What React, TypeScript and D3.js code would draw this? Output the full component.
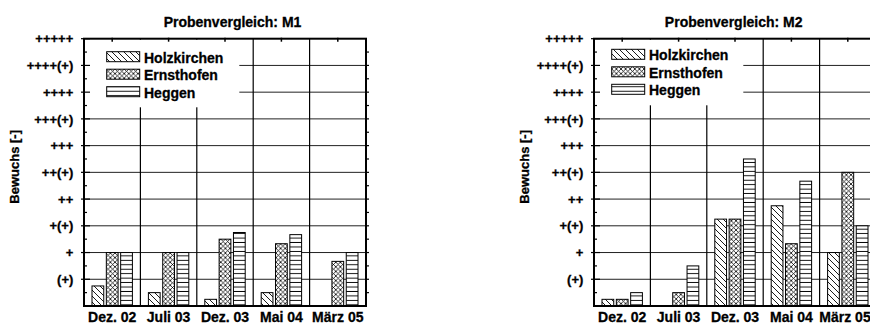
import React from 'react';
import * as d3 from 'd3';

const categories = ['Dez. 02', 'Juli 03', 'Dez. 03', 'Mai 04', 'März 05'];
const seriesNames = ['Holzkirchen', 'Ernsthofen', 'Heggen'];
const yTickValues = [1, 2, 3, 4, 5, 6, 7, 8, 9, 10];
const yTickLabels = ['(+)', '+', '+(+)', '++', '++(+)', '+++', '+++(+)', '++++', '++++(+)', '+++++'];

const m1Holzkirchen = [0.75, 0.5, 0.25, 0.5, 0];
const m1Ernsthofen = [2, 2, 2.5, 2.33, 1.67];
const m1Heggen = [2, 2, 2.75, 2.67, 2];

const m2Holzkirchen = [0.25, 0, 3.25, 3.75, 2];
const m2Ernsthofen = [0.25, 0.5, 3.25, 2.33, 5];
const m2Heggen = [0.5, 1.5, 5.5, 4.67, 3];

const FONT = '"Liberation Sans", Arial, Helvetica, sans-serif';
const patternIds = ['patDiag', 'patCross', 'patHoriz'];
const TXT = { fontFamily: FONT, fontWeight: 'bold' as const, stroke: '#000', strokeWidth: 0.3 };

type ChartProps = {
  x0: number;
  title: string;
  titleX: number;
  series: number[][];
  legendDx: number;
  legendDy: number;
  legendRight: number;
  legendBottom: number;
};

function Chart({ x0, title, titleX, series, legendDx, legendDy, legendRight, legendBottom }: ChartProps) {
  const left = x0;
  const right = x0 + 282;
  const top = 38.7;
  const bottom = 306;
  const x = d3.scaleBand<string>().domain(categories).range([left, right]).padding(0);
  const xs = d3.scaleBand<string>().domain(seriesNames).range([-20.2, 20.2]).paddingInner(0.18);
  const y = d3.scaleLinear().domain([0, 10]).range([bottom, top]);
  const halfTicks = d3.range(0.5, 10, 1);
  const allHalf = d3.range(0.5, 10, 0.5);
  const bw = x.bandwidth();

  const lx = left + 22.7 + legendDx;
  const ly = 51.7 + legendDy;

  return (
    <g>
      <text x={titleX} y={26.5} textAnchor="middle" fontSize={14} {...TXT}>{title}</text>
      {yTickValues.slice(0, 9).map((v) => (
        <line key={'h' + v} x1={left} x2={right} y1={y(v)} y2={y(v)} stroke="#222" strokeWidth={1} />
      ))}
      {categories.slice(1).map((c) => (
        <line key={'v' + c} x1={x(c)!} x2={x(c)!} y1={top} y2={bottom} stroke="#000" strokeWidth={1.2} />
      ))}
      <rect x={left + 1} y={top + 1} width={legendRight - left - 1} height={legendBottom - top - 1} fill="#fff" />
      {seriesNames.map((s, i) => (
        <g key={'lg' + s}>
          <rect x={lx} y={ly + i * 17.5} width={33} height={10} fill={`url(#${patternIds[i]})`} stroke="#000" strokeWidth={1} />
          <text x={lx + 37.3} y={ly + i * 17.5 + 10.8} fontSize={14} {...TXT}>{s}</text>
        </g>
      ))}
      {categories.map((c, ci) => (
        <g key={'b' + c}>
          {seriesNames.map((s, si) => {
            const v = series[si][ci];
            if (!v) return null;
            const bx = x(c)! + bw / 2 + xs(s)!;
            return (
              <rect key={s} x={bx} y={y(v)} width={xs.bandwidth()} height={y(0) - y(v)}
                fill={`url(#${patternIds[si]})`} stroke="#000" strokeWidth={1} />
            );
          })}
        </g>
      ))}
      <rect x={left} y={top} width={right - left} height={bottom - top} fill="none" stroke="#000" strokeWidth={2} />
      {yTickValues.map((v) => (
        <line key={'lt' + v} x1={left - 3} x2={left + 6} y1={y(v)} y2={y(v)} stroke="#000" strokeWidth={1.2} />
      ))}
      {halfTicks.map((v) => (
        <line key={'lm' + v} x1={left} x2={left + 3} y1={y(v)} y2={y(v)} stroke="#000" strokeWidth={1.2} />
      ))}
      {allHalf.map((v) => (
        <line key={'rt' + v} x1={right} x2={right + 3} y1={y(v)} y2={y(v)} stroke="#000" strokeWidth={1.2} />
      ))}
      {categories.map((c) => (
        <line key={'tt' + c} x1={x(c)! + bw / 2} x2={x(c)! + bw / 2} y1={top - 1} y2={top + 3} stroke="#000" strokeWidth={1.5} />
      ))}
      {yTickValues.map((v, i) => (
        <text key={'yl' + v} x={left - 10.7} y={y(v)} dy="0.36em" textAnchor="end" fontSize={13} {...TXT}>{yTickLabels[i]}</text>
      ))}
      {categories.map((c) => {
        const cx = Math.min(x(c)! + bw / 2, 845);
        return (
          <text key={'xl' + c} x={cx} y={322} textAnchor="middle" fontSize={14} {...TXT}>{c}</text>
        );
      })}
      <text transform={`translate(${left - 65.5},${(top + bottom) / 2 - 5.5}) rotate(-90)`} textAnchor="middle"
        fontSize={13} {...TXT}>Bewuchs [-]</text>
    </g>
  );
}

export default function App() {
  return (
    <svg width={870} height={327} viewBox="0 0 870 327"
      style={{ position: 'absolute', left: 0, top: 0, background: '#fff' }}>
      <defs>
        <pattern id="patDiag" patternUnits="userSpaceOnUse" width={6} height={6}>
          <rect width={6} height={6} fill="#fff" />
          <path d="M-1,-1 L7,7 M-1,5 L1,7 M5,-1 L7,1" stroke="#000" strokeWidth={0.9} />
        </pattern>
        <pattern id="patCross" patternUnits="userSpaceOnUse" width={4.6} height={4.6}>
          <rect width={4.6} height={4.6} fill="#fff" />
          <path d="M0,0 L4.6,4.6 M4.6,0 L0,4.6" stroke="#000" strokeWidth={0.8} />
        </pattern>
        <pattern id="patHoriz" patternUnits="userSpaceOnUse" width={4} height={4.45}>
          <rect width={4} height={4.45} fill="#fff" />
          <path d="M0,2.2 H4" stroke="#000" strokeWidth={0.9} />
        </pattern>
      </defs>
      <rect width={870} height={327} fill="#fff" />
      <Chart x0={84} title="Probenvergleich: M1" titleX={232.5}
        series={[m1Holzkirchen, m1Ernsthofen, m1Heggen]}
        legendDx={0} legendDy={0} legendRight={239.3} legendBottom={107.3} />
      <Chart x0={594} title="Probenvergleich: M2" titleX={733.7}
        series={[m2Holzkirchen, m2Ernsthofen, m2Heggen]}
        legendDx={-5} legendDy={-2.4} legendRight={743.3} legendBottom={105.3} />
    </svg>
  );
}
